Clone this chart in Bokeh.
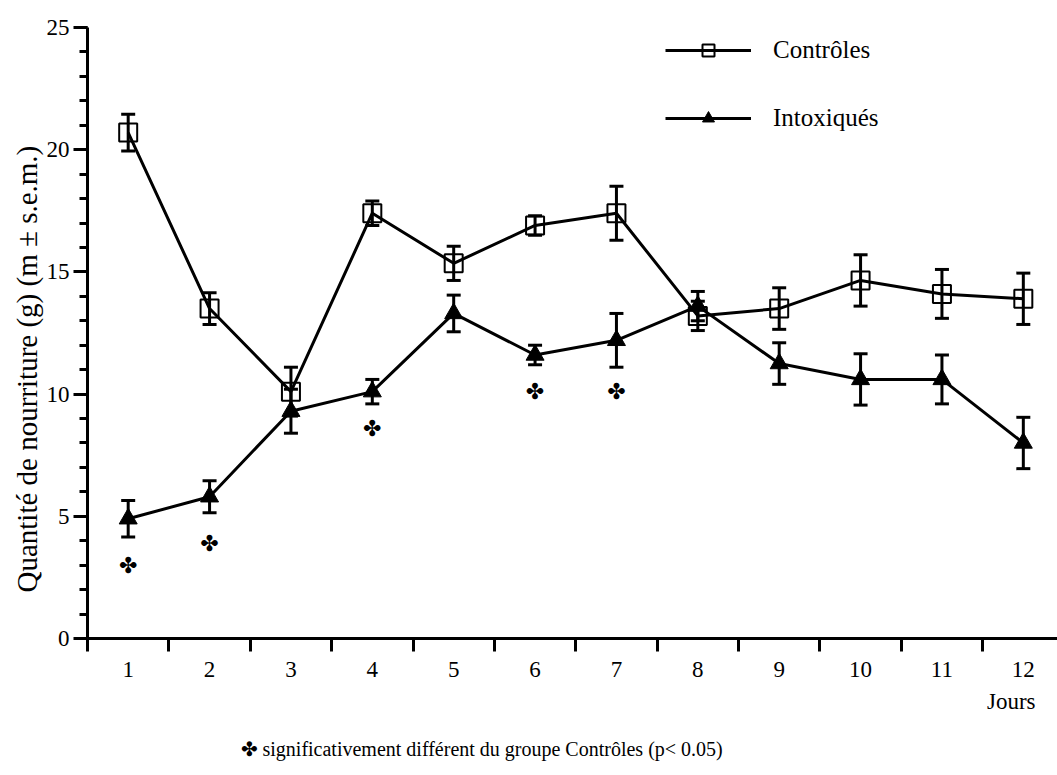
from bokeh.plotting import figure
from bokeh.models import (FixedTicker, Whisker, ColumnDataSource, Legend, LegendItem,
                          Range1d, TeeHead, Title)
from bokeh.core.properties import value
from bokeh.embed import file_html
from bokeh.resources import INLINE

days = [1, 2, 3, 4, 5, 6, 7, 8, 9, 10, 11, 12]
day_labels = ["1", "2", "3", "4", "5", "6", "7", "8", "9", "10", "11", "12"]
controles = [20.7, 13.5, 10.1, 17.4, 15.35, 16.9, 17.4, 13.2, 13.5, 14.65, 14.1, 13.9]
controles_err = [0.75, 0.65, 1.0, 0.5, 0.7, 0.4, 1.1, 0.6, 0.85, 1.05, 1.0, 1.05]
intoxiques = [4.9, 5.8, 9.3, 10.1, 13.3, 11.6, 12.2, 13.6, 11.25, 10.6, 10.6, 8.0]
intoxiques_err = [0.75, 0.65, 0.9, 0.5, 0.75, 0.4, 1.1, 0.6, 0.85, 1.05, 1.0, 1.05]
sig_days = [1, 2, 4, 6, 7]
sig_y = [3.0, 3.9, 8.6, 10.1, 10.1]
y_ticks = [0, 5, 10, 15, 20, 25]

SERIF = "Liberation Serif"

p = figure(width=1057, height=775, output_backend="svg", toolbar_location=None,
           x_range=Range1d(0.5, 12.42), y_range=Range1d(0, 25),
           min_border_left=87, min_border_right=0, min_border_top=27, min_border_bottom=137)
p.outline_line_color = None
p.grid.visible = False
p.background_fill_color = "white"

# axes
xa = p.xaxis[0]
xa.ticker = FixedTicker(ticks=days, minor_ticks=[d - 0.5 for d in days])
xa.major_label_overrides = {d: l for d, l in zip(days, day_labels)}
xa.major_tick_out = 0
xa.major_tick_in = 0
xa.minor_tick_out = 13
xa.minor_tick_in = 0
xa.minor_tick_line_width = 3
xa.minor_tick_line_color = "black"
xa.axis_line_width = 3
xa.axis_line_color = "black"
xa.major_label_text_font = SERIF
xa.major_label_text_font_size = "23px"
xa.major_label_text_color = "black"
xa.major_label_standoff = 10

ya = p.yaxis[0]
ya.ticker = FixedTicker(ticks=y_ticks, minor_ticks=list(range(0, 26)))
ya.major_tick_out = 14
ya.major_tick_in = 0
ya.minor_tick_out = 8
ya.minor_tick_in = 0
ya.major_tick_line_width = 3
ya.minor_tick_line_width = 3
ya.major_tick_line_color = "black"
ya.minor_tick_line_color = "black"
ya.axis_line_width = 3
ya.axis_line_color = "black"
ya.major_label_text_font = SERIF
ya.major_label_text_font_size = "23px"
ya.major_label_text_color = "black"
ya.major_label_standoff = 4

p.add_layout(Title(text="Quantité de nourriture (g) (m ± s.e.m.)", align="left",
                   offset=46, standoff=2, text_font=SERIF, text_font_size="29px",
                   text_font_style="normal", text_color="black"), "left")

src_c = ColumnDataSource(dict(x=days, y=controles,
                              lo=[v - e for v, e in zip(controles, controles_err)],
                              hi=[v + e for v, e in zip(controles, controles_err)]))
src_i = ColumnDataSource(dict(x=days, y=intoxiques,
                              lo=[v - e for v, e in zip(intoxiques, intoxiques_err)],
                              hi=[v + e for v, e in zip(intoxiques, intoxiques_err)]))

for src in (src_c, src_i):
    w = Whisker(source=src, base="x", upper="hi", lower="lo", dimension="height",
                line_width=3, line_color="black",
                upper_head=TeeHead(size=14, line_width=3, line_color="black"),
                lower_head=TeeHead(size=14, line_width=3, line_color="black"))
    p.add_layout(w)

lc = p.line("x", "y", source=src_c, line_width=3, line_color="black")
sc = p.scatter("x", "y", source=src_c, marker="square", size=18, fill_alpha=0,
               line_color="black", line_width=2)
li = p.line("x", "y", source=src_i, line_width=3, line_color="black")
si = p.scatter("x", "y", source=src_i, marker="triangle", size=18, fill_color="black",
               line_color="black", line_width=1)

p.text(x=sig_days, y=sig_y, text=["✤"] * len(sig_days), text_font=value("DejaVu Sans"),
       text_font_size="22px", text_align="center", text_baseline="middle", text_color="black")

legend = Legend(items=[LegendItem(label="Contrôles", renderers=[lc, sc]),
                       LegendItem(label="Intoxiqués", renderers=[li, si])],
                location=(578, 505), orientation="vertical",
                glyph_width=86, glyph_height=30, spacing=38, padding=0, margin=0,
                label_standoff=22, label_text_font=SERIF, label_text_font_size="25px",
                label_text_color="black", border_line_color=None,
                background_fill_alpha=0, label_height=30)
p.add_layout(legend, "center")

p.add_layout(Title(text="Jours", align="right", offset=22, standoff=14,
                   text_font=SERIF, text_font_size="23px", text_font_style="normal",
                   text_color="black"), "below")
p.add_layout(Title(text="✤ significativement différent du groupe Contrôles (p< 0.05)",
                   align="left", offset=153, standoff=30,
                   text_font=SERIF, text_font_size="20px", text_font_style="normal",
                   text_color="black"), "below")

open("out.html", "w").write(file_html(p, INLINE))
